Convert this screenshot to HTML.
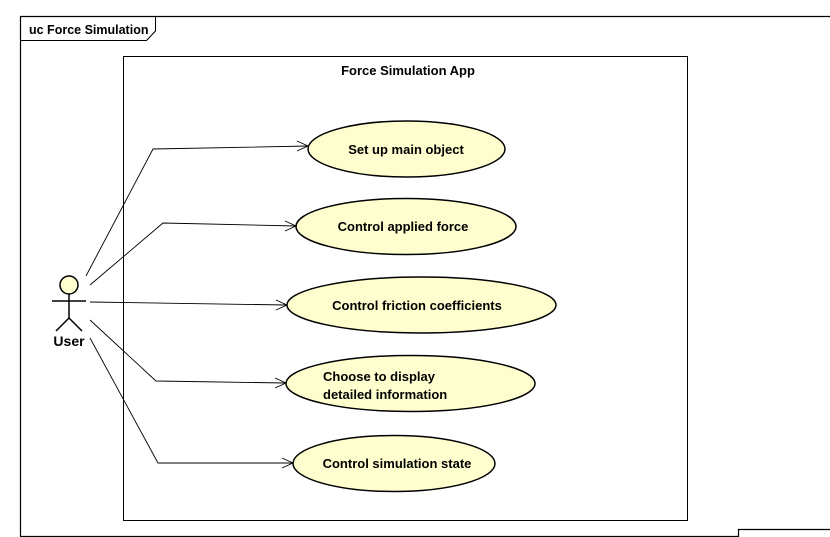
<!DOCTYPE html>
<html><head><meta charset="utf-8"><style>html,body{margin:0;padding:0;background:#fff}svg{display:block}</style></head>
<body>
<svg width="830" height="537" xmlns="http://www.w3.org/2000/svg" font-family="'Liberation Sans', sans-serif" font-weight="bold" font-size="13">
<polyline points="830,16.5 20.5,16.5 20.5,536.5 738.5,536.5 738.5,529.5 830,529.5" fill="none" stroke="#000" stroke-width="1.2"/>
<polyline points="20.5,40.5 146.5,40.5 155.5,31 155.5,16.5" fill="none" stroke="#000" stroke-width="1"/>
<text x="29" y="34" font-size="12.5">uc Force Simulation</text>
<rect x="123.5" y="56.5" width="564" height="464" fill="none" stroke="#000" stroke-width="1"/>
<text x="408" y="75" text-anchor="middle">Force Simulation App</text>
<g fill="none" stroke="#000" stroke-width="0.9">
<polyline points="86,276 153,149 308,146"/>
<polyline points="90,285 163,223 296,226"/>
<polyline points="90,302 287,305"/>
<polyline points="90,320 156,381 286,383"/>
<polyline points="90,338 158,463 293,463"/>
<polyline points="297,141 308,146 297,151"/>
<polyline points="285,221 296,226 285,231"/>
<polyline points="276,300 287,305 276,310"/>
<polyline points="275,378 286,383 275,388"/>
<polyline points="282,458 293,463 282,468"/>
</g>
<g fill="#FEFECE" stroke="#000" stroke-width="1.5">
<ellipse cx="406.5" cy="149" rx="98.5" ry="28"/>
<ellipse cx="406" cy="226.5" rx="110" ry="28"/>
<ellipse cx="421.5" cy="305" rx="134.5" ry="28"/>
<ellipse cx="410.5" cy="383.5" rx="124.5" ry="28"/>
<ellipse cx="394" cy="463.5" rx="101" ry="28"/>
</g>
<text x="406" y="154" text-anchor="middle">Set up main object</text>
<text x="403" y="231" text-anchor="middle">Control applied force</text>
<text x="417" y="310" text-anchor="middle">Control friction coefficients</text>
<text x="323" y="381">Choose to display</text>
<text x="323" y="399">detailed information</text>
<text x="397" y="468" text-anchor="middle">Control simulation state</text>
<g stroke="#000" stroke-width="1.5" fill="none">
<circle cx="69" cy="285" r="9" fill="#FEFECE"/>
<line x1="69" y1="294" x2="69" y2="318"/>
<line x1="52" y1="301" x2="86" y2="301"/>
<polyline points="56,331 69,318 82,331"/>
</g>
<text x="69" y="346" text-anchor="middle" font-size="14">User</text>
</svg>
</body></html>
